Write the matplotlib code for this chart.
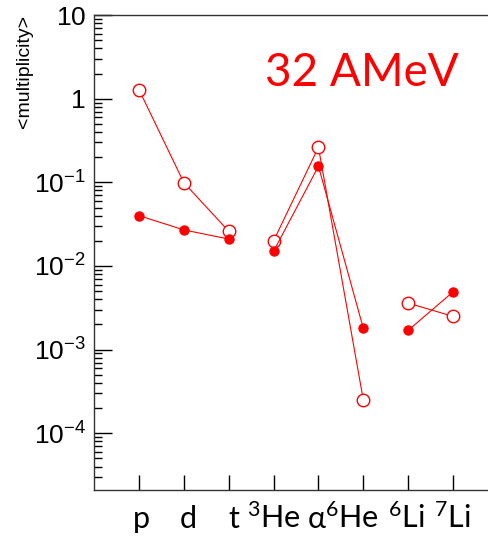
import numpy as np
import matplotlib.pyplot as plt
import matplotlib.transforms as mtransforms
from matplotlib.ticker import LogLocator, NullFormatter, FixedLocator

# particle species on the x axis
species = [r"$\mathregular{p}$", r"$\mathregular{d}$", r"$\mathregular{t}$",
           r"$\mathregular{^{3}He}$", "α", r"$\mathregular{^{6}He}$",
           r"$\mathregular{^{6}Li}$", r"$\mathregular{^{7}Li}$"]
positions = [1, 2, 3, 4, 5, 6, 7, 8]
label_shift = [2, 4, 6, 0, -2, -11, -2, -1]  # px, labels are not quite centred

# <multiplicity> values
open_vals = [1.28, 0.099, 0.026, 0.020, 0.263, 2.5e-4, 3.6e-3, 2.5e-3]
filled_vals = [0.040, 0.027, 0.021, 0.015, 0.156, 1.8e-3, 1.7e-3, 4.9e-3]

# species that are joined by a line
groups = [[0, 1, 2], [3, 4, 5], [6, 7]]

fig = plt.figure(figsize=(4.88, 5.39), dpi=100)
ax = fig.add_axes([0.193, 0.091, 0.807, 0.881])

red = "#ff0000"
for g in groups:
    xs = [positions[i] for i in g]
    ax.plot(xs, [open_vals[i] for i in g], "-", color=red, lw=0.8,
            marker="o", ms=9, mfc="white", mec=red, mew=1.0)
    ax.plot(xs, [filled_vals[i] for i in g], "-", color=red, lw=0.8,
            marker="o", ms=6.5, mfc=red, mec=red)

ax.set_yscale("log")
ax.set_ylim(2.1e-5, 10)
ax.set_xlim(0, 8.78)

ax.yaxis.set_minor_locator(LogLocator(base=10, subs=np.arange(2, 10), numticks=20))
ax.yaxis.set_minor_formatter(NullFormatter())
yvals = [10, 1, 0.1, 0.01, 1e-3, 1e-4]
ylabels = [r"$\mathregular{10}$", r"$\mathregular{1}$", r"$\mathregular{10^{-1}}$",
           r"$\mathregular{10^{-2}}$", r"$\mathregular{10^{-3}}$", r"$\mathregular{10^{-4}}$"]
ax.set_yticks(yvals)
ax.set_yticklabels(ylabels, fontsize=19, family="Liberation Sans")
ax.tick_params(axis="y", which="major", direction="in", length=13, width=1, pad=6)
ax.tick_params(axis="y", which="minor", direction="in", length=6, width=1)

ax.xaxis.set_major_locator(FixedLocator(positions))
ax.set_xticklabels(species, fontsize=22, family=["Lato", "DejaVu Sans"])
ax.tick_params(axis="x", which="major", direction="in", length=11, width=1, pad=5)
ax.tick_params(axis="x", which="minor", bottom=False)
# put all labels on one baseline, 38 px under the axis
for lab, dx in zip(ax.get_xticklabels(), label_shift):
    lab.set_va("baseline")
    lab.set_transform(lab.get_transform() +
                      mtransforms.ScaledTranslation(dx / 100, -31 / 100, fig.dpi_scale_trans))

ax.spines["right"].set_visible(False)
for s in ["left", "bottom", "top"]:
    ax.spines[s].set_linewidth(1)
    ax.spines[s].set_color("#333333")

fig.text(0.051, 0.972, "<multiplicity>", rotation=90, ha="center", va="top",
         fontsize=14, family="Liberation Sans")
ax.text(0.434, 0.851, "32 AMeV", transform=ax.transAxes, color=red,
        fontsize=33, family=["Lato", "DejaVu Sans"], ha="left", va="baseline")

fig.savefig("out.png", dpi=100)
